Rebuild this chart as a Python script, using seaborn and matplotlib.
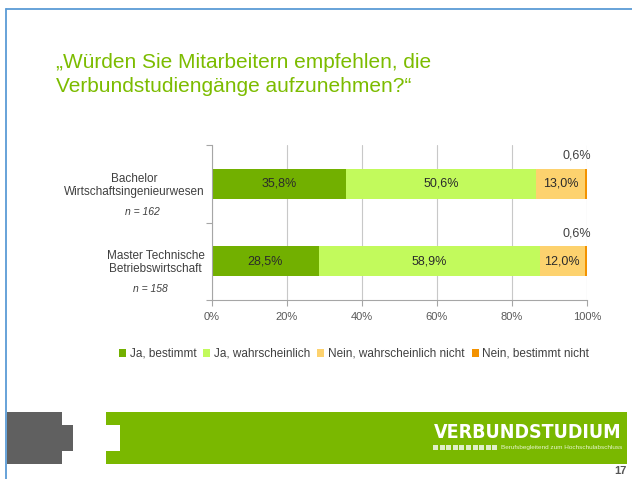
import matplotlib
matplotlib.use("Agg")
import matplotlib.pyplot as plt
from matplotlib.lines import Line2D
from matplotlib.patches import Rectangle
import numpy as np
import pandas as pd
import seaborn as sns

sns.set_theme(style="white")
plt.rcParams["font.family"] = ["Liberation Sans", "DejaVu Sans"]

# --- data -------------------------------------------------------------------
PROGRAMMES = ["Bachelor\nWirtschaftsingenieurwesen", "Master Technische\nBetriebswirtschaft"]
N_LABELS = ["n = 162", "n = 158"]
SERIES = ["Ja, bestimmt", "Ja, wahrscheinlich", "Nein, wahrscheinlich nicht", "Nein, bestimmt nicht"]
JA_BESTIMMT = [35.8, 28.5]
JA_WAHRSCHEINLICH = [50.6, 58.9]
NEIN_WAHRSCHEINLICH = [13.0, 12.0]
NEIN_BESTIMMT = [0.6, 0.6]
X_TICKS = [0, 20, 40, 60, 80, 100]

COLORS = ["#72b000", "#c2fa5c", "#fdd26e", "#f39200"]
TITLE = "\u201eWürden Sie Mitarbeitern empfehlen, die\nVerbundstudiengänge aufzunehmen?\u201c"

W, H = 632, 479


def px(x, y):
    """pixel (from top-left) -> figure fraction"""
    return x / W, 1 - y / H


def fmt(v):
    return f"{v:.1f}".replace(".", ",") + "%"


df = pd.DataFrame(
    {
        "programme": PROGRAMMES,
        SERIES[0]: JA_BESTIMMT,
        SERIES[1]: JA_WAHRSCHEINLICH,
        SERIES[2]: NEIN_WAHRSCHEINLICH,
        SERIES[3]: NEIN_BESTIMMT,
    }
)
cum = df[SERIES].cumsum(axis=1)

fig = plt.figure(figsize=(W / 100, H / 100), dpi=100)
fig.patch.set_facecolor("white")

# slide frame (blue)
fig.add_artist(Line2D([px(6, 0)[0], 1], [px(0, 9)[1]] * 2, color="#5b9bd5", lw=1.3))
fig.add_artist(Line2D([px(6, 0)[0]] * 2, [0, px(0, 9)[1]], color="#5b9bd5", lw=1.3))

# title
fig.text(*px(56, 53), TITLE, color="#7cbc00", fontsize=15, ha="left", va="top",
         linespacing=1.32)

# --- chart ------------------------------------------------------------------
l, t = px(212, 145)
r, b = px(587, 300)
ax = fig.add_axes([l, b, r - l, t - b])

# stacked bars: draw cumulative totals from the largest down so they overlay
for s, c in reversed(list(zip(SERIES, COLORS))):
    sns.barplot(x=cum[s], y=df["programme"], orient="h", color=c, width=0.39,
                label=s, ax=ax, saturation=1, linewidth=0)

handles, labels = ax.get_legend_handles_labels()
if ax.get_legend() is not None:
    ax.get_legend().remove()

ax.set_xlim(0, 100)
ax.set_ylim(1.5, -0.5)
ax.set_xticks(X_TICKS)
ax.set_xticklabels([f"{v}%" for v in X_TICKS], fontsize=8, color="#595959")
ax.set_yticks([-0.5, 0.5, 1.5])
ax.set_yticklabels([])
ax.set_xlabel("")
ax.set_ylabel("")
ax.tick_params(axis="both", direction="out", length=4, width=0.8, color="#a6a6a6",
               left=True, bottom=True, pad=5)
ax.xaxis.grid(True, color="#c8c8c8", lw=0.8)
ax.set_axisbelow(True)
for side in ["top", "right"]:
    ax.spines[side].set_visible(False)
for side in ["left", "bottom"]:
    ax.spines[side].set_color("#a6a6a6")
    ax.spines[side].set_linewidth(0.8)

# segment labels
for i in range(len(PROGRAMMES)):
    starts = [0] + list(cum.iloc[i, :-1])
    for j, s in enumerate(SERIES[:3]):
        v = df.loc[i, s]
        ax.text(starts[j] + v / 2, i, fmt(v), ha="center", va="center",
                fontsize=9, color="#2b2b2b")
    ax.text(101, i - 0.36, fmt(df.loc[i, SERIES[3]]), ha="right", va="center",
            fontsize=9, color="#404040")

# category labels
trans = ax.get_yaxis_transform()
n_x = [-0.185, -0.165]
for i, (lab, n) in enumerate(zip(PROGRAMMES, N_LABELS)):
    ax.text(-0.02, i + 0.02, lab, transform=trans, ha="right", va="center",
            multialignment="center", fontsize=8.5, color="#404040", linespacing=1.15)
    ax.text(n_x[i], i + 0.36, n, transform=trans, ha="center", va="center",
            fontsize=7.5, style="italic", color="#404040")

# legend in series order
order = [labels.index(s) for s in SERIES]
fig.legend([handles[k] for k in order], [labels[k] for k in order],
           loc="center", bbox_to_anchor=px(354, 354), ncol=4, frameon=False,
           fontsize=8.5, handlelength=0.6, handleheight=0.6, handletextpad=0.3,
           columnspacing=0.6, labelcolor="#404040")

# --- footer banner ------------------------------------------------------------
def rect(x0, y0, x1, y1, color):
    a, bb = px(x0, y1)
    fig.add_artist(Rectangle((a, bb), (x1 - x0) / W, (y1 - y0) / H,
                             transform=fig.transFigure, color=color, lw=0))


rect(7, 412, 62, 464, "#606060")
rect(62, 425, 73, 451, "#606060")
rect(106, 412, 627, 464, "#7ab800")
rect(106, 425, 120, 451, "white")

fig.text(*px(622, 432), "VERBUNDSTUDIUM", color="white", fontsize=14,
         fontweight="bold", ha="right", va="center", family="DejaVu Sans",
         fontstretch="condensed")
for k in range(10):
    rect(433 + k * 6.6, 445, 433 + k * 6.6 + 5, 450, "#dfeec8")
fig.text(*px(622, 447.5), "Berufsbegleitend zum Hochschulabschluss", color="#e8f5d0",
         fontsize=4.6, ha="right", va="center")
fig.text(*px(627, 471), "17", color="#555555", fontsize=8, fontweight="bold",
         ha="right", va="center")

fig.savefig("out.png", dpi=100)
